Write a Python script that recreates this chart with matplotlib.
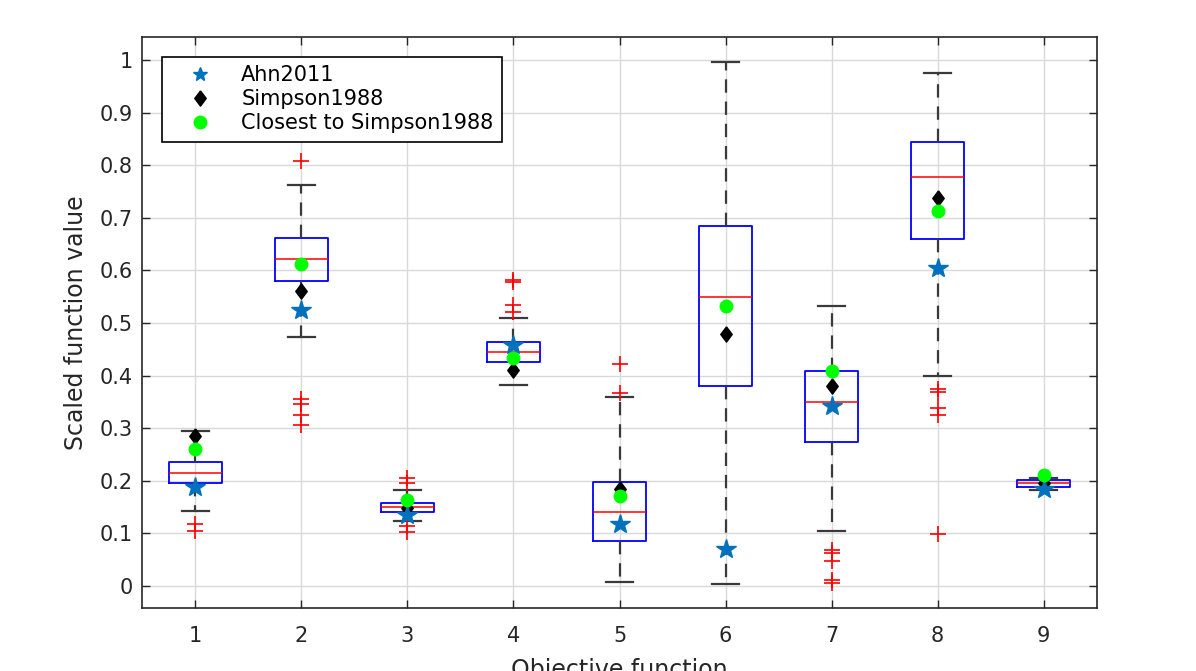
import numpy as np
import matplotlib.pyplot as plt
from matplotlib.lines import Line2D

# ==============================
# Datos
# ==============================
objetivos = [1, 2, 3, 4, 5, 6, 7, 8, 9]

q1 = [0.196, 0.580, 0.141, 0.426, 0.086, 0.381, 0.273, 0.660, 0.188]
mediana = [0.215, 0.622, 0.150, 0.445, 0.141, 0.550, 0.349, 0.777, 0.195]
q3 = [0.236, 0.662, 0.158, 0.464, 0.197, 0.684, 0.409, 0.845, 0.202]
bigote_inf = [0.143, 0.473, 0.124, 0.382, 0.008, 0.004, 0.105, 0.399, 0.183]
bigote_sup = [0.295, 0.762, 0.183, 0.510, 0.359, 0.996, 0.533, 0.976, 0.205]
atipicos = [
    [0.118, 0.105],
    [0.808, 0.355, 0.345, 0.325, 0.305],
    [0.205, 0.196, 0.114, 0.103],
    [0.582, 0.577, 0.534, 0.521],
    [0.421, 0.367],
    [],
    [0.068, 0.062, 0.048, 0.012, 0.006],
    [0.375, 0.368, 0.339, 0.325, 0.098],
    [],
]

ahn2011 = [0.188, 0.525, 0.135, 0.458, 0.117, 0.070, 0.342, 0.604, 0.184]
simpson1988 = [0.285, 0.560, 0.148, 0.410, 0.184, 0.479, 0.381, 0.738, 0.195]
closest = [0.260, 0.612, 0.163, 0.433, 0.170, 0.533, 0.408, 0.713, 0.211]

# ==============================
# Grafico
# ==============================
fig = plt.figure(figsize=(11.96, 6.71), dpi=100)
ax = fig.add_axes([0.119, 0.094, 0.798, 0.851])

stats = []
for i in range(len(objetivos)):
    stats.append({'med': mediana[i], 'q1': q1[i], 'q3': q3[i],
                  'whislo': bigote_inf[i], 'whishi': bigote_sup[i],
                  'fliers': atipicos[i]})

ax.bxp(stats, positions=objetivos, widths=0.5, showfliers=True,
       boxprops=dict(color='blue', linewidth=1.3),
       medianprops=dict(color='red', linewidth=1.1),
       whiskerprops=dict(color='#3a3a3a', linewidth=1.6, linestyle=(0, (6, 4))),
       capprops=dict(color='#3a3a3a', linewidth=1.6),
       capwidths=0.25,
       flierprops=dict(marker='+', markeredgecolor='red', markersize=12,
                       markeredgewidth=1.2, linestyle='none'))

# rombo algo mas alto que ancho, como el de MATLAB
rombo = [(0, 1), (0.75, 0), (0, -1), (-0.75, 0), (0, 1)]

ax.plot(objetivos, simpson1988, linestyle='none', marker=rombo, color='black',
        markersize=11, zorder=4)
ax.plot(objetivos, ahn2011, linestyle='none', marker='*', color='#0072BD',
        markersize=15, zorder=5)
ax.plot(objetivos, closest, linestyle='none', marker='o', color='#00FF00',
        markersize=9, zorder=6)

ax.set_xlim(0.5, 9.5)
ax.set_ylim(-0.042, 1.044)
ax.set_xticks(objetivos)
ax.set_xticklabels([str(o) for o in objetivos])
ax.set_yticks(np.arange(0, 1.01, 0.1))
ax.set_yticklabels(['0', '0.1', '0.2', '0.3', '0.4', '0.5', '0.6', '0.7', '0.8', '0.9', '1'])
ax.tick_params(direction='in', top=True, right=True, labelsize=15, length=6,
               width=1, colors='#262626')
ax.tick_params(axis='x', pad=13)
ax.tick_params(axis='y', pad=7)
ax.grid(True, color='#d9d9d9', linewidth=1)
ax.set_axisbelow(True)
for s in ax.spines.values():
    s.set_color('#262626')
    s.set_linewidth(1.2)

ax.set_xlabel('Objective function', fontsize=17, color='#262626', labelpad=9)
ax.set_ylabel('Scaled function value', fontsize=17, color='#262626', labelpad=8)

# leyenda: la estrella sale pequena, rombo y circulo a tamano normal
handles = [
    Line2D([], [], linestyle='none', marker='*', color='#0072BD', markersize=10),
    Line2D([], [], linestyle='none', marker=rombo, color='black', markersize=11),
    Line2D([], [], linestyle='none', marker='o', color='#00FF00', markersize=9),
]
labels = ['Ahn2011', 'Simpson1988', 'Closest to Simpson1988']
leg = ax.legend(handles, labels, loc='upper left',
                fontsize=15, fancybox=False, edgecolor='black', framealpha=1,
                borderaxespad=0.95, handletextpad=0.6, handlelength=2.8,
                borderpad=0.4, labelspacing=0.2)
leg.get_frame().set_linewidth(1.2)

plt.savefig('out.png', dpi=100)
